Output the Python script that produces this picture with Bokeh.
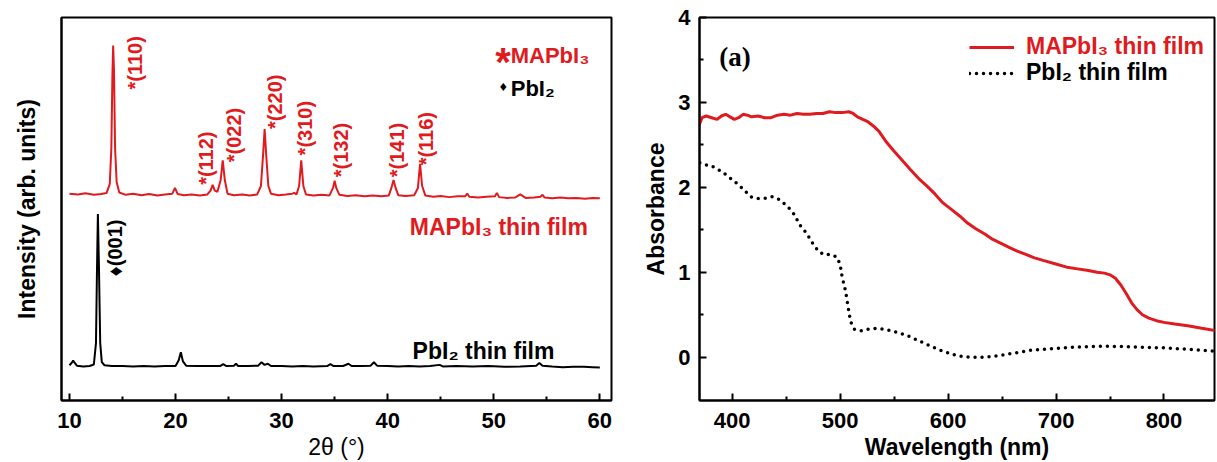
from bokeh.plotting import figure
from bokeh.models import Range1d, FixedTicker, Label, Legend, LegendItem
from bokeh.layouts import row
from bokeh.embed import file_html
from bokeh.resources import INLINE

RED = "#e01b20"
FONT = "Liberation Sans"
SERIF = "Liberation Serif"

# ---------------- XRD data (left panel), intensity in arb. units ----------------
mapbi3_2theta = [10.0, 10.8, 11.5, 12.3, 13.0, 13.5, 13.8, 13.95, 14.05, 14.12, 14.2, 14.3, 14.45, 14.7,
                 15.3, 16.0, 16.8, 17.5, 18.3, 19.0, 19.7, 19.95, 20.2, 20.8, 21.5, 22.3, 23.0, 23.3,
                 23.5, 23.7, 23.95, 24.25, 24.45, 24.65, 24.9, 25.5, 26.3, 27.0, 27.7, 28.05, 28.25,
                 28.4, 28.55, 28.75, 29.0, 29.7, 30.4, 31.0, 31.2, 31.4, 31.65, 31.85, 32.05, 32.3,
                 33.0, 33.8, 34.5, 34.85, 35.0, 35.15, 35.45, 36.2, 37.0, 37.8, 38.6, 39.4, 40.1,
                 40.35, 40.55, 40.75, 41.0, 41.7, 42.5, 42.85, 43.05, 43.25, 43.55, 44.3, 45.0, 45.8,
                 46.6, 47.3, 47.5, 47.7, 48.5, 49.3, 50.1, 50.3, 50.5, 51.3, 52.0, 52.5, 53.0, 53.8,
                 54.4, 54.6, 54.8, 55.5, 56.3, 57.0, 57.8, 58.6, 59.3, 60.0]
mapbi3_int = [54.0, 53.8, 54.1, 53.7, 53.9, 54.2, 56.5, 66.0, 85.0, 92.7, 86.0, 66.0, 57.0, 54.3,
              53.7, 54.0, 53.6, 53.9, 53.5, 53.8, 54.0, 55.5, 53.9, 53.6, 53.8, 53.5, 53.8, 54.8,
              56.3, 54.8, 54.5, 57.5, 62.7, 57.5, 54.0, 53.6, 53.8, 53.5, 53.8, 56.0, 64.0,
              70.9, 64.0, 56.0, 54.0, 53.6, 53.8, 54.0, 54.2, 53.8, 56.0, 62.7, 56.0, 53.8,
              53.5, 53.7, 53.5, 55.5, 57.4, 55.5, 53.7, 53.4, 53.6, 53.3, 53.5, 53.3, 53.5,
              55.5, 57.6, 55.5, 53.6, 53.4, 53.6, 55.5, 61.8, 56.0, 53.5, 53.2, 53.4, 53.1,
              53.3, 53.3, 54.0, 53.2, 53.0, 53.2, 53.3, 54.2, 53.1, 52.9, 53.0, 53.8, 52.9, 53.0,
              53.2, 53.7, 53.0, 52.8, 53.0, 52.8, 52.9, 52.7, 52.9, 52.8]

pbi2_2theta = [10.0, 10.2, 10.35, 10.5, 10.7, 11.3, 11.9, 12.3, 12.5, 12.6, 12.68, 12.78, 12.9, 13.05,
               13.3, 14.0, 15.0, 16.0, 17.0, 18.0, 19.0, 20.0, 20.3, 20.5, 20.7, 21.0, 22.0, 23.0,
               24.2, 24.5, 24.8, 25.5, 25.7, 25.9, 26.8, 27.8, 28.1, 28.4, 28.7, 29.0, 30.0, 31.0,
               32.0, 33.0, 34.3, 34.6, 34.9, 35.8, 36.3, 36.6, 37.5, 38.4, 38.7, 39.0, 40.0, 41.0,
               42.0, 43.0, 44.0, 44.9, 45.2, 46.5, 48.0, 49.5, 51.0, 52.5, 54.0, 54.3, 54.6, 55.5,
               56.5, 57.5, 58.5, 59.3, 60.0]
pbi2_int = [9.2, 9.8, 10.4, 9.8, 9.1, 8.9, 9.0, 9.4, 15.0, 35.0, 48.7, 35.0, 15.0, 10.0,
            9.2, 9.0, 9.0, 8.9, 9.0, 8.9, 9.0, 9.0, 10.5, 12.6, 10.2, 9.1, 9.0, 9.0,
            9.0, 9.5, 9.0, 9.1, 9.6, 9.0, 9.0, 9.1, 10.0, 9.3, 9.6, 9.0, 9.0, 8.9,
            9.0, 8.9, 9.0, 9.5, 9.0, 9.0, 9.6, 9.0, 9.0, 9.1, 10.0, 9.1, 9.0, 8.9,
            9.0, 8.9, 9.0, 9.3, 8.9, 9.0, 8.9, 9.0, 8.8, 8.9, 9.1, 9.8, 9.1, 8.9,
            8.7, 8.8, 8.8, 8.7, 8.6]

mapbi3_hkl = ["*(110)", "*(112)", "*(022)", "*(220)", "*(310)", "*(132)", "*(141)", "*(116)"]
pbi2_hkl = ["\u2666(001)"]
xrd_ticks = [10, 20, 30, 40, 50, 60]

# ---------------- UV-Vis data (right panel) ----------------
wl_mapbi3 = [369, 372, 376, 381, 386, 390, 394, 398, 402, 406, 410, 414, 418, 424, 430, 436, 442, 448,
             454, 460, 466, 472, 478, 484, 490, 496, 502, 508, 512, 516, 521, 526, 531, 536, 543, 549,
             556, 565, 573, 580, 588, 595, 603, 611, 618, 626, 634, 641, 649, 657, 664, 672, 680, 688,
             699, 710, 720, 730, 738, 745, 750, 755, 760, 765, 770, 775, 780, 786, 793, 800, 810, 822,
             835, 850]
abs_mapbi3 = [2.72, 2.82, 2.84, 2.82, 2.80, 2.84, 2.86, 2.83, 2.80, 2.82, 2.86, 2.85, 2.83, 2.84, 2.82,
              2.82, 2.85, 2.86, 2.85, 2.87, 2.86, 2.86, 2.87, 2.87, 2.89, 2.88, 2.88, 2.89, 2.87, 2.83,
              2.80, 2.77, 2.72, 2.66, 2.53, 2.44, 2.34, 2.21, 2.10, 2.02, 1.92, 1.82, 1.74, 1.66, 1.58,
              1.51, 1.45, 1.39, 1.34, 1.29, 1.25, 1.21, 1.17, 1.14, 1.10, 1.06, 1.04, 1.02, 1.00, 0.99,
              0.97, 0.93, 0.85, 0.75, 0.64, 0.56, 0.50, 0.46, 0.43, 0.41, 0.39, 0.37, 0.34, 0.31]

wl_pbi2 = [370, 374, 381, 387, 393, 399, 405, 411, 417, 423, 430, 437, 443, 450, 456, 460, 464, 469,
           473, 478, 484, 491, 497, 500, 502, 504, 505.5, 506.5, 507.5, 508.5, 510, 513, 519, 526, 533,
           540, 548, 556, 563, 570, 577, 584, 591, 598, 605, 612, 620, 627, 634, 641, 648, 655, 662,
           669, 676, 686, 697, 708, 719, 733, 747, 760, 772, 786, 800, 813, 825, 837, 850]
abs_pbi2 = [2.29, 2.27, 2.25, 2.21, 2.16, 2.10, 2.04, 1.97, 1.89, 1.87, 1.87, 1.89, 1.86, 1.79, 1.71,
            1.62, 1.53, 1.46, 1.37, 1.28, 1.21, 1.21, 1.18, 1.09, 0.93, 0.84, 0.74, 0.66, 0.58, 0.50,
            0.41, 0.33, 0.31, 0.33, 0.34, 0.33, 0.31, 0.28, 0.25, 0.21, 0.17, 0.13, 0.09, 0.06, 0.03,
            0.01, 0.00, 0.00, 0.00, 0.01, 0.02, 0.035, 0.05, 0.065, 0.08, 0.09, 0.10, 0.11, 0.12, 0.125,
            0.13, 0.125, 0.12, 0.115, 0.11, 0.10, 0.09, 0.08, 0.07]

uv_xticks = [400, 500, 600, 700, 800]
uv_yticks = [0, 1, 2, 3, 4]


def style_axes(p):
    for ax in p.axis:
        ax.axis_line_width = 2
        ax.axis_line_color = "black"
        ax.major_tick_line_width = 2
        ax.minor_tick_line_width = 2
        ax.major_tick_in = 7
        ax.major_tick_out = 0
        ax.minor_tick_in = 4
        ax.minor_tick_out = 0
        ax.major_label_text_font = FONT
        ax.major_label_text_font_style = "bold"
        ax.major_label_text_font_size = "22px"
        ax.major_label_text_color = "black"
        ax.axis_label_text_font = FONT
        ax.axis_label_text_font_style = "bold"
        ax.axis_label_text_font_size = "23px"
        ax.axis_label_text_color = "black"
    p.xgrid.visible = False
    p.ygrid.visible = False
    p.outline_line_color = "black"
    p.outline_line_width = 2
    p.outline_line_alpha = 1
    p.background_fill_color = "white"
    p.border_fill_color = "white"


# ---------------- Left panel ----------------
p1 = figure(width=640, height=462, x_range=Range1d(9.25, 61.1), y_range=Range1d(0, 100),
            output_backend="svg", toolbar_location=None,
            min_border_left=61, min_border_right=29, min_border_top=17, min_border_bottom=62)
style_axes(p1)
p1.xaxis.ticker = FixedTicker(ticks=xrd_ticks, minor_ticks=[15, 25, 35, 45, 55])
p1.yaxis.ticker = FixedTicker(ticks=[], minor_ticks=[])
p1.yaxis.major_label_standoff = 0
p1.yaxis.axis_label = "Intensity (arb. units)"
p1.yaxis.axis_label_standoff = 22
p1.xaxis.axis_label = "2\u03b8 (\u00b0)"
p1.xaxis.axis_label_text_font_style = "normal"
p1.xaxis.major_label_standoff = 12
p1.xaxis.axis_label_standoff = 3

p1.line(mapbi3_2theta, mapbi3_int, line_color=RED, line_width=2)
p1.line(pbi2_2theta, pbi2_int, line_color="black", line_width=2)

hkl_x = [16.17, 22.89, 25.5, 29.4, 32.2, 35.6, 40.9, 43.6]
hkl_y = [81.2, 56.3, 62.2, 70.9, 64.0, 58.3, 58.3, 61.4]
for t, x, y in zip(mapbi3_hkl, hkl_x, hkl_y):
    p1.add_layout(Label(x=x, y=y, text=t, angle=90, angle_units="deg", text_align="left",
                        text_baseline="middle", text_font=FONT, text_font_style="bold",
                        text_font_size="20px", text_color=RED))
p1.add_layout(Label(x=14.3, y=32.4, text=pbi2_hkl[0], angle=90, angle_units="deg", text_align="left",
                    text_baseline="middle", text_font=FONT, text_font_style="bold",
                    text_font_size="20px", text_color="black"))

# legend-like texts (top right)
p1.add_layout(Label(x=51.6, y=88.3, text="*", text_align="right", text_baseline="alphabetic",
                    text_font=FONT, text_font_style="bold", text_font_size="40px", text_color=RED))
p1.add_layout(Label(x=51.6, y=90.1, text="MAPbI\u2083", text_align="left", text_baseline="alphabetic",
                    text_font=FONT, text_font_style="bold", text_font_size="22px", text_color=RED))
p1.add_layout(Label(x=50.9, y=82.0, text="\u2666", text_align="center", text_baseline="alphabetic",
                    text_font=FONT, text_font_style="bold", text_font_size="14px", text_color="black"))
p1.add_layout(Label(x=51.6, y=81.5, text="PbI\u2082", text_align="left", text_baseline="alphabetic",
                    text_font=FONT, text_font_style="bold", text_font_size="22px", text_color="black"))
p1.add_layout(Label(x=58.87, y=45.2, text="MAPbI\u2083 thin film", text_align="right",
                    text_baseline="alphabetic", text_font=FONT, text_font_style="bold",
                    text_font_size="23px", text_color=RED))
p1.add_layout(Label(x=55.72, y=13.05, text="PbI\u2082 thin film", text_align="right",
                    text_baseline="alphabetic", text_font=FONT, text_font_style="bold",
                    text_font_size="23px", text_color="black"))

# ---------------- Right panel ----------------
p2 = figure(width=577, height=462, x_range=Range1d(369.7, 846.8), y_range=Range1d(-0.51, 4.0),
            output_backend="svg", toolbar_location=None,
            min_border_left=54, min_border_right=3, min_border_top=17, min_border_bottom=62)
style_axes(p2)
p2.xaxis.ticker = FixedTicker(ticks=uv_xticks, minor_ticks=[450, 550, 650, 750])
p2.yaxis.ticker = FixedTicker(ticks=uv_yticks, minor_ticks=[0.5, 1.5, 2.5, 3.5])
p2.xaxis.axis_label = "Wavelength (nm)"
p2.yaxis.axis_label = "Absorbance"
p2.xaxis.major_label_standoff = 12
p2.xaxis.axis_label_standoff = 3
p2.yaxis.major_label_standoff = 9
p2.yaxis.axis_label_standoff = 6

r_red = p2.line(wl_mapbi3, abs_mapbi3, line_color=RED, line_width=3)
r_dot = p2.line(wl_pbi2, abs_pbi2, line_color="black", line_width=3.5, line_dash="0 7",
                line_cap="round")

for label, rend, color, vy in [("MAPbI\u2083 thin film", r_red, RED, 340),
                               ("PbI\u2082 thin film", r_dot, "black", 314)]:
    leg = Legend(items=[LegendItem(label=label, renderers=[rend])], location=(270, vy),
                 padding=0, margin=0, spacing=0, glyph_width=45, glyph_height=24, label_height=24,
                 label_standoff=12, border_line_alpha=0, background_fill_alpha=0,
                 label_text_font=FONT, label_text_font_style="bold", label_text_font_size="23px",
                 label_text_color=color)
    p2.add_layout(leg)

p2.add_layout(Label(x=388.1, y=3.53, text="(a)", text_align="left", text_baseline="alphabetic",
                    text_font=SERIF, text_font_style="bold", text_font_size="27px", text_color="black"))

layout = row(p1, p2)
open("out.html", "w").write(file_html(layout, INLINE))
